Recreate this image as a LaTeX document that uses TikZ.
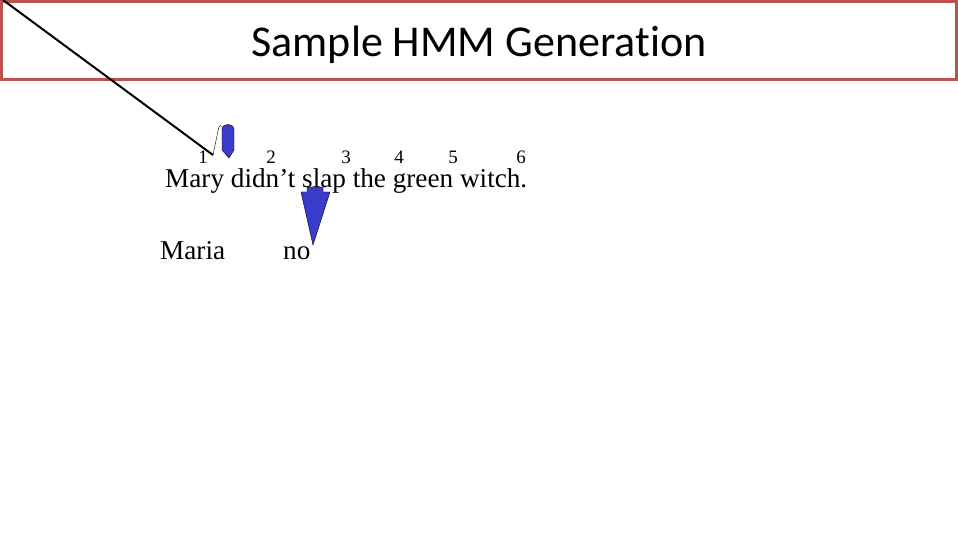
\documentclass[tikz,border=0pt]{standalone}
\usepackage{fontspec}
\setmainfont{Liberation Serif}
\newfontfamily\titlefont[Ligatures={NoCommon}]{Carlito}
\usetikzlibrary{positioning}
\definecolor{boxred}{RGB}{192,80,77}
\definecolor{arrowblue}{RGB}{58,58,204}
\tikzset{word/.style={anchor=base west,inner sep=0pt,text height=19pt,font=\fontsize{27.2}{28}\selectfont},
        num/.style={anchor=base,inner sep=0pt,text depth=0pt,font=\fontsize{19}{19}\selectfont}}

\begin{document}
\begin{tikzpicture}[x=1pt,y=-1pt]
            \useasboundingbox (0,0) rectangle (958,540);
            \node [draw=boxred,line width=3pt,minimum width=955pt,minimum height=78pt,inner sep=0pt] (titlebox) at (479,40.5) {};
            \node (title) at (479,45) {\fontsize{44}{44}\titlefont Sample HMM Generation};
            
            \node [word] (sent) at (165,188) {Mary didn’t slap the green witch.};
            \node [num] (n1) at (203,164) {1};
            \node [num] (n2) at (271,164) {2};
            \node [num] (n3) at (346,164) {3};
            \node [num] (n4) at (399,164) {4};
            \node [num] (n5) at (453,164) {5};
            \node [num] (n6) at (521,164) {6};
            \node [word] (maria) at (160,259) {Maria};
            \node [word] (no) at (283,259) {no};
            
            \coordinate (corner) at (3,0);
            \coordinate (hook) at (213,155);
            \draw [line width=2pt] (corner) -- (hook);
            \draw (hook) -- (218,131) .. controls (219,124) and (222,124) .. (223,130);
            \draw [fill=arrowblue] (222,150) -- (222,129) .. controls (222,123) and (234,123) .. (234,129) -- (234,150) -- (229,158) -- cycle;
            \draw [fill=arrowblue] (307,187) -- (323,187) -- (323,192) -- (330,192) -- (313,245) -- (301,192) -- (307,192) -- cycle;
        \end{tikzpicture}
\end{document}
